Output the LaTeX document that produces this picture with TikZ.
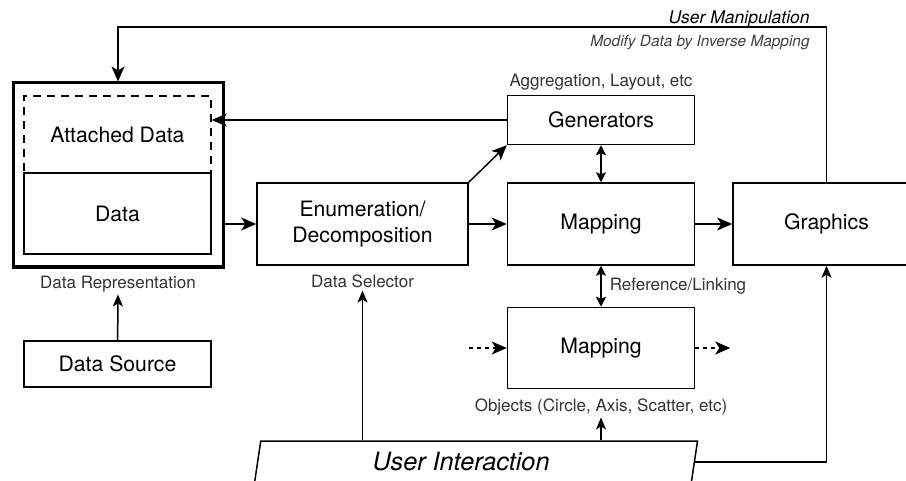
\documentclass[tikz,border=0pt]{standalone}
\usepackage{fontspec}
\setmainfont{TeX Gyre Heros}
\usetikzlibrary{shapes.geometric, arrows.meta, positioning}

\begin{document}
\begin{tikzpicture}[
    x=0.5pt, y=-0.5pt,
    node distance=18.5pt and 18.5pt,
    box/.style={rectangle, draw, line width=0.75pt, minimum width=93.5pt, minimum height=41pt, align=center, inner sep=2pt, font=\fontsize{10.6}{13.3}\selectfont},
    arrow/.style={-{Stealth[length=7.5pt, width=6.5pt, inset=2pt]}, line width=0.75pt},
    tip/.style={-{Stealth[length=6pt, width=5pt, inset=1.5pt]}, line width=0.75pt},
    both/.style={{Stealth[length=5pt, width=5pt, inset=1pt]}-{Stealth[length=5pt, width=5pt, inset=1pt]}, line width=0.75pt},
    annot/.style={font=\fontsize{8.5}{10}\selectfont, text=black!80, inner sep=1pt},
    remark/.style={font=\fontsize{7.7}{9}\selectfont\itshape, text=black!75, inner sep=1pt}
]
\useasboundingbox (0,0) rectangle (906,481);
\clip (0,0) rectangle (906,481);

% Data representation block
\node[box, line width=1.5pt, minimum width=105pt, minimum height=92pt] (datarep) at (118,175) {};
\node[box, dashed, dash pattern=on 4pt off 3pt, minimum height=38.5pt] (attached) at (117.5,134.5) {Attached Data};
\node[box, minimum height=40.5pt] (data) at (117.5,213.5) {Data};
\node[box, minimum height=23pt] (datasrc) at (117.5,364) {Data Source};

% Pipeline boxes
\node[box, minimum width=105.5pt] (enum) at (362.5,224) {Enumeration/\\Decomposition};
\node[box, right=19pt of enum] (map) {Mapping};
\node[box, right=of map] (graphics) {Graphics};
\node[box, minimum height=24.5pt, above=of map] (gen) {Generators};
\node[box, minimum height=40.5pt, below=20.5pt of map] (map2) {Mapping};

% User interaction
\node[draw, line width=0.75pt, trapezium, trapezium left angle=79, trapezium right angle=101, trapezium stretches body, minimum width=221.5pt, minimum height=21pt, font=\fontsize{12.6}{15}\selectfont\itshape] (ui) at (476,462) {User Interaction\kern15pt};

% Labels
\node[annot, below=2.5pt of datarep] (reptext) {Data Representation};
\node[annot, below=3.5pt of enum] (seltext) {Data Selector};
\node[annot, above=1pt of gen] (gentext) {Aggregation, Layout, etc};
\node[annot, below=3.5pt of map2] (objtext) {Objects (Circle, Axis, Scatter, etc)};
\node[font=\fontsize{8.75}{10}\selectfont\itshape, inner sep=1pt, anchor=south east] (manip) at (812,30) {User Manipulation};
\node[remark, anchor=north east] (inverse) at (812,33) {Modify Data by Inverse Mapping};

% Free ends of the dashed arrows
\coordinate (prevmap) at ([xshift=-19pt]map2.west);
\coordinate (nextmap) at ([xshift=17.5pt]map2.east);

% Arrows
\draw[arrow] (enum.west -| datarep.east) -- (enum.west);
\draw[arrow] (gen.west) -- (gen.west -| attached.east);
\draw[arrow] (enum.north east) -- (gen.south west);
\draw[arrow] (enum) -- (map);
\draw[arrow] (map) -- (graphics);
\draw[both] (gen) -- (map);
\draw[both] (map) -- node[annot, right=3pt] (reflink) {Reference/Linking} (map2);
\draw[arrow, dash pattern=on 2pt off 2pt] (prevmap) -- (map2);
\draw[arrow, dash pattern=on 2pt off 2pt] (map2) -- (nextmap);
\draw[tip] (datasrc) -- (reptext);
\draw[tip] (ui.north -| seltext.south) -- (seltext);
\draw[tip] (ui.north -| objtext.south) -- (objtext);
\draw[tip] (ui.east) -| (graphics.south);

% Feedback loop
\draw[arrow] (graphics.north) -- ++(0,-155) -| (datarep.north);

\end{tikzpicture}
\end{document}
